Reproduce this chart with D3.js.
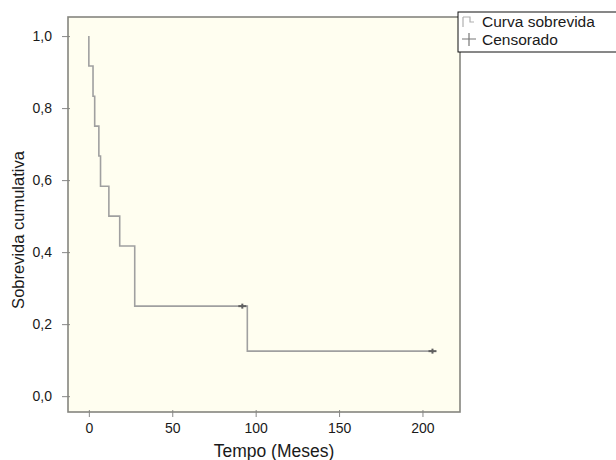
<!DOCTYPE html>
<html>
<head>
<meta charset="utf-8">
<script src="https://cdn.jsdelivr.net/npm/d3@7"></script>
<style>
  body { margin: 0; background: #fff; }
  text { font-family: "Liberation Sans", Arial, sans-serif; fill: #1a1a1a; }
</style>
</head>
<body>
<script>
// Kaplan-Meier curve: step times (months) and cumulative survival
var stepTime = [0, 0, 2.5, 3.5, 6, 7, 12, 18.5, 27.5, 95, 206];
var survival = [1.0, 0.917, 0.833, 0.75, 0.667, 0.583, 0.5, 0.417, 0.25, 0.125, 0.125];

// censored observations
var censorTime = [92, 206];
var censorSurv = [0.25, 0.125];

// tick labels
var xTicks = [0, 50, 100, 150, 200];
var yTicks = [0, 0.2, 0.4, 0.6, 0.8, 1.0];

var legendLabels = ["Curva sobrevida", "Censorado"];

var w = 616, h = 460;

var svg = d3.select("body").append("svg")
    .attr("width", w)
    .attr("height", h);

//scales (domain padded like the original plot frame)
var x = d3.scaleLinear().domain([-12.5, 222.5]).range([68, 460]);
var y = d3.scaleLinear().domain([-0.044, 1.053]).range([412, 17]);

//plot area
svg.append("rect")
    .attr("x", 68).attr("y", 17)
    .attr("width", 392).attr("height", 395)
    .style("fill", "#fffef0");

//y axis
var yAxis = svg.append("g")
    .attr("transform", "translate(68,0)")
    .call(d3.axisLeft(y)
        .tickValues(yTicks)
        .tickSize(6)
        .tickPadding(10)
        .tickFormat(function(d){ return d3.format(".1f")(d).replace(".", ","); }));
yAxis.select(".domain").remove();
yAxis.selectAll(".tick line").attr("x1", 2).style("stroke", "#888");
yAxis.selectAll(".tick text").style("font-size", "14px").style("fill", "#1a1a1a")
    .style("font-family", "'Liberation Sans', Arial, sans-serif");

//x axis
var xAxis = svg.append("g")
    .attr("transform", "translate(0,412)")
    .call(d3.axisBottom(x)
        .tickValues(xTicks)
        .tickSize(5)
        .tickPadding(6));
xAxis.select(".domain").remove();
xAxis.selectAll(".tick line").attr("y1", -2).style("stroke", "#888");
xAxis.selectAll(".tick text").style("font-size", "14px").style("fill", "#1a1a1a")
    .style("font-family", "'Liberation Sans', Arial, sans-serif");

//frame
svg.append("rect")
    .attr("x", 68).attr("y", 17)
    .attr("width", 392).attr("height", 395)
    .style("fill", "none")
    .style("stroke", "#85857f")
    .style("stroke-width", 1.6);

//survival curve
var line = d3.line()
    .x(function(d){ return x(d[0]); })
    .y(function(d){ return y(d[1]); })
    .curve(d3.curveStepAfter);

svg.append("path")
    .datum(d3.zip(stepTime, survival))
    .attr("d", line)
    .style("fill", "none")
    .style("stroke", "#a0a0a0")
    .style("stroke-width", 1.6);

//censor marks
var cens = svg.selectAll(".censor")
    .data(d3.zip(censorTime, censorSurv))
    .enter()
    .append("g")
    .attr("class", "censor")
    .attr("transform", function(d){ return "translate(" + x(d[0]) + "," + y(d[1]) + ")"; });
cens.append("line").attr("x1", -4).attr("x2", 4).attr("y1", 0).attr("y2", 0);
cens.append("line").attr("x1", 0).attr("x2", 0).attr("y1", -2.5).attr("y2", 2.5);
cens.selectAll("line").style("stroke", "#606060").style("stroke-width", 2);

//axis titles
svg.append("text")
    .attr("text-anchor", "middle")
    .attr("x", 274).attr("y", 457)
    .style("font-size", "17.5px")
    .text("Tempo (Meses)");

svg.append("text")
    .attr("text-anchor", "middle")
    .attr("transform", "translate(24,230) rotate(-90)")
    .style("font-size", "16.5px")
    .text("Sobrevida cumulativa");

//legend
var legend = svg.append("g");
legend.append("rect")
    .attr("x", 458).attr("y", 12)
    .attr("width", 170).attr("height", 40)
    .style("fill", "#fff")
    .style("stroke", "#111")
    .style("stroke-width", 1);

legend.append("path")
    .attr("d", "M463,17 L470,17 L470,22 L474,22 M463,17 L463,27")
    .style("fill", "none")
    .style("stroke", "#b0b0b0")
    .style("stroke-width", 1.2);
legend.append("path")
    .attr("d", "M462,39 L476,39 M469,33 L469,46")
    .style("fill", "none")
    .style("stroke", "#777")
    .style("stroke-width", 1.2);

legend.selectAll(".legText")
    .data(legendLabels)
    .enter()
    .append("text")
    .attr("class", "legText")
    .attr("x", 482)
    .attr("y", function(d, i){ return 27 + i * 18; })
    .style("font-size", "15.5px")
    .text(function(d){ return d; });
</script>
</body>
</html>
